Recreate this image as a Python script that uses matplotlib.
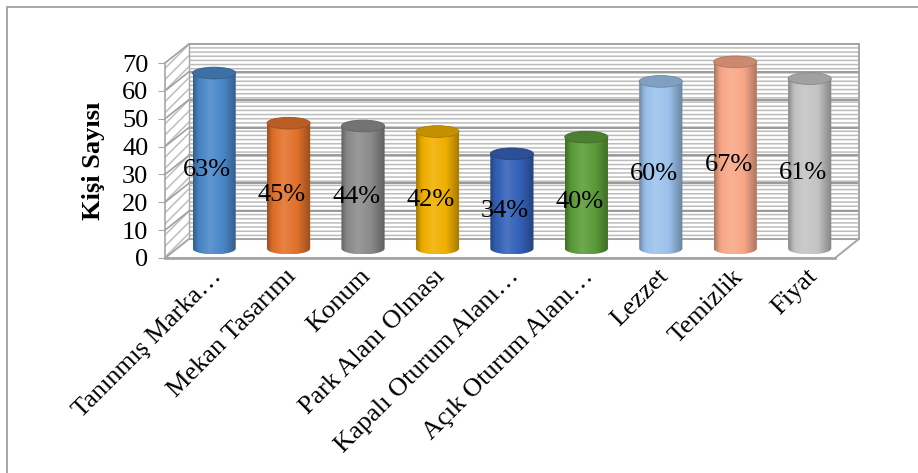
import numpy as np
import matplotlib
matplotlib.use('agg')
import matplotlib.pyplot as plt
from matplotlib.patches import Ellipse, Polygon, PathPatch, Rectangle
from matplotlib.path import Path
from matplotlib.colors import to_rgb
from matplotlib.transforms import ScaledTranslation

categories = ['Tanınmış Marka…', 'Mekan Tasarımı', 'Konum', 'Park Alanı Olması',
              'Kapalı Oturum Alanı…', 'Açık Oturum Alanı…', 'Lezzet', 'Temizlik', 'Fiyat']
values = [63, 45, 44, 42, 34, 40, 60, 67, 61]
value_labels = ['63%', '45%', '44%', '42%', '34%', '40%', '60%', '67%', '61%']
bar_colors = ['#4a88c8', '#e2722c', '#8c8c8c', '#f0b000', '#3462b8',
              '#5c9c3a', '#9cc2ec', '#f8a888', '#c4c4c4']
yticks = [0, 10, 20, 30, 40, 50, 60, 70]

plt.rcParams['font.family'] = ['Liberation Serif', 'DejaVu Serif']
plt.rcParams['hatch.linewidth'] = 1.1

fig = plt.figure(figsize=(9.18, 4.73), dpi=100)
ax = fig.add_axes([165 / 918, 215 / 473, 670 / 918, 195 / 473])

# depth of the fake 3d box, in data units
DX, DY = 0.32, 6.8
x0, x1 = -0.5, len(categories) - 0.5
ytop = yticks[-1]

# back wall with fine horizontal stripes
back = Polygon([(x0 + DX, DY), (x1 + DX, DY), (x1 + DX, ytop + DY), (x0 + DX, ytop + DY)],
               closed=True, fc='white', ec='#bcbcbc', lw=0, hatch='----', zorder=1, clip_on=False)
ax.add_patch(back)
# side wall with diagonal hatch
side = Polygon([(x0, 0), (x0 + DX, DY), (x0 + DX, ytop + DY), (x0, ytop)],
               closed=True, fc='white', ec='#bdbdbd', lw=0, hatch='///', zorder=1, clip_on=False)
ax.add_patch(side)

# gridlines on both walls
for y in yticks[1:]:
    ax.plot([x0 + DX, x1 + DX], [y + DY, y + DY], color='#9a9a9a', lw=1.4, zorder=1.2, clip_on=False)
    ax.plot([x0, x0 + DX], [y, y + DY], color='#a0a0a0', lw=1.2, zorder=1.2, clip_on=False)
ax.plot([x0 + DX, x1 + DX, x1 + DX], [ytop + DY, ytop + DY, DY], color='#a6a6a6', lw=1.4,
        zorder=1.2, clip_on=False)
ax.plot([x0 + DX, x0 + DX], [DY, ytop + DY], color='#a6a6a6', lw=1.0, zorder=1.2, clip_on=False)

# floor
floor = Polygon([(x0, 0), (x1, 0), (x1 + DX, DY), (x0 + DX, DY)], closed=True,
                fc='white', ec='#a6a6a6', lw=1.4, zorder=1.5, clip_on=False)
ax.add_patch(floor)


def shade(rgb, s):
    rgb = np.asarray(rgb)[None, :]
    s = np.asarray(s)[:, None]
    return np.clip(np.where(s > 0, rgb + (1 - rgb) * s, rgb * (1 + s)), 0, 1)


t = np.linspace(0, 1, 64)
profile = np.interp(t, [0, 0.12, 0.38, 0.7, 1.0], [-0.3, -0.05, 0.12, -0.02, -0.32])

w, eh = 0.29, 2.1
bx, by = DX * 0.5, DY * 0.5
theta = np.linspace(np.pi, 2 * np.pi, 50)

for i, (v, c) in enumerate(zip(values, bar_colors)):
    rgb = to_rgb(c)
    cx = i + bx
    yb, yt = by, v + by
    arc = np.column_stack([cx + w * np.cos(theta), yb + eh * np.sin(theta)])
    verts = np.vstack([[cx - w, yt], arc, [cx + w, yt], [cx - w, yt]])
    body = PathPatch(Path(verts, closed=True), fc='none', ec='none')
    ax.add_patch(body)
    grad = shade(rgb, profile)
    im = ax.imshow(grad[None, :, :], extent=(cx - w, cx + w, yb - eh, yt), aspect='auto',
                   interpolation='bilinear', zorder=3)
    im.set_clip_path(body)
    im.set_clip_box(fig.bbox)
    top_c = shade(rgb, [-0.18])[0]
    edge_c = shade(rgb, [-0.3])[0]
    ax.add_patch(Ellipse((cx, yt), 2 * w, 2 * eh, fc=top_c, ec=edge_c, lw=0.6,
                         zorder=4, clip_on=False))
    ax.text(i + 0.07, v / 2, value_labels[i], ha='center', va='center',
            fontsize=19, color='black', zorder=6)

ax.set_xlim(x0, x1)
ax.set_ylim(0, ytop)
ax.set_yticks(yticks)
ax.set_xticks(range(len(categories)))
ax.set_xticklabels([])
ax.tick_params(axis='x', length=0)
ax.tick_params(axis='y', length=5, color='#a6a6a6', labelsize=19, pad=7)

# category labels, rotated, ending just below-right of each slot
lab_tr = ax.transData + ScaledTranslation(16 / 100, -15 / 100, fig.dpi_scale_trans)
for i, name in enumerate(categories):
    ax.text(i, 0, name, transform=lab_tr, rotation=45, ha='right', va='center',
            rotation_mode='anchor', fontsize=19, clip_on=False)

for s in ['top', 'right']:
    ax.spines[s].set_visible(False)
ax.spines['left'].set_color('#a6a6a6')
ax.spines['left'].set_linewidth(1.2)
ax.spines['bottom'].set_color('#a6a6a6')
ax.spines['bottom'].set_linewidth(2)
ax.set_facecolor('none')

ax.set_ylabel('Kişi Sayısı', fontsize=19, fontweight='bold')
ax.yaxis.set_label_coords(-0.09, 0.5)

fig.add_artist(Rectangle((7 / 918, -0.05), 1.0, (473 - 7) / 473 + 0.05,
                         transform=fig.transFigure, fill=False, ec='#a0a0a0', lw=1.3))

fig.savefig('out.png', dpi=100)
